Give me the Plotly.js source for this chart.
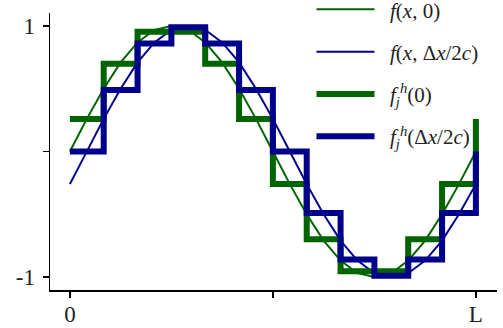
<!DOCTYPE html>
<html>
<head>
<meta charset="utf-8">
<script src="https://cdn.plot.ly/plotly-3.0.1.min.js"></script>
<style>html,body{margin:0;padding:0;background:#fff;} #chart{width:503px;height:328px;}</style>
</head>
<body>
<div id="chart"></div>
<script>
// x positions in units of L
var xCurve = [0, 0.0417, 0.0833, 0.125, 0.1667, 0.2083, 0.25, 0.2917, 0.3333, 0.375, 0.4167, 0.4583, 0.5,
              0.5417, 0.5833, 0.625, 0.6667, 0.7083, 0.75, 0.7917, 0.8333, 0.875, 0.9167, 0.9583, 1];
var fExact0 = [0, 0.26, 0.5, 0.71, 0.87, 0.97, 1, 0.97, 0.87, 0.71, 0.5, 0.26, 0,
               -0.26, -0.5, -0.71, -0.87, -0.97, -1, -0.97, -0.87, -0.71, -0.5, -0.26, 0];
var fExactHalf = [-0.26, 0, 0.26, 0.5, 0.71, 0.87, 0.97, 1, 0.97, 0.87, 0.71, 0.5, 0.26,
                  0, -0.26, -0.5, -0.71, -0.87, -0.97, -1, -0.97, -0.87, -0.71, -0.5, -0.26];
var xCells = [0, 0.0833, 0.1667, 0.25, 0.3333, 0.4167, 0.5, 0.5833, 0.6667, 0.75, 0.8333, 0.9167, 1];
var fCells0 = [0.26, 0.70, 0.955, 0.955, 0.70, 0.26, -0.26, -0.70, -0.955, -0.955, -0.70, -0.26, 0.26];
var fCellsHalf = [0, 0.49, 0.86, 0.99, 0.86, 0.49, 0, -0.49, -0.86, -0.99, -0.86, -0.49, 0];
var seriesNames = ['<i>f</i>(<i>x</i>, 0)', '<i>f</i>(<i>x</i>, Δ<i>x</i>/2<i>c</i>)',
                   '<i>f</i><sub><i>j</i></sub><sup><i>h</i></sup>(0)',
                   '<i>f</i><sub><i>j</i></sub><sup><i>h</i></sup>(Δ<i>x</i>/2<i>c</i>)'];
var xTickVals = [0, 0.5, 1];
var xTickText = ['0', '', 'L'];
var yTickVals = [-1, 0, 1];
var yTickText = ['-1', '', '1'];

var green = '#006400', blue = '#00008b';
var pad = '\u00a0\u00a0';
var traces = [
  {x: xCurve, y: fExact0, mode: 'lines', name: pad + seriesNames[0], line: {color: green, width: 2}, legendgroup: 'a'},
  {x: xCurve, y: fExactHalf, mode: 'lines', name: pad + seriesNames[1], line: {color: blue, width: 2}, legendgroup: 'b'},
  {x: xCells, y: fCells0, mode: 'lines', name: pad + seriesNames[2], line: {color: green, width: 6, shape: 'hv'}, legendgroup: 'c'},
  {x: xCells, y: fCellsHalf, mode: 'lines', name: pad + seriesNames[3], line: {color: blue, width: 6, shape: 'hv'}, legendgroup: 'd'}
];
var fam = 'Liberation Serif';
var layout = {
  width: 503, height: 328,
  margin: {l: 50, r: 6, t: 13, b: 38, autoexpand: false},
  paper_bgcolor: '#fff', plot_bgcolor: '#fff',
  font: {family: fam, size: 22, color: '#222'},
  showlegend: true,
  legend: {x: 0.585, y: 1.086, xanchor: 'left', yanchor: 'top', bgcolor: 'rgba(0,0,0,0)',
           traceorder: 'grouped', tracegroupgap: 12, itemwidth: 58, font: {family: fam, size: 21, color: '#222'}},
  xaxis: {range: [-0.049, 1.052], showgrid: false, zeroline: false, showline: true, linecolor: '#000', linewidth: 1.5,
          ticks: 'outside', ticklen: 6, tickwidth: 1.5, tickcolor: '#000', tickvals: xTickVals, ticktext: xTickText,
          ticklabelstandoff: -3, tickfont: {family: fam, size: 23, color: '#222'}, fixedrange: true},
  yaxis: {range: [-1.104, 1.104], showgrid: false, zeroline: false, showline: true, linecolor: '#000', linewidth: 1.5,
          ticks: 'outside', ticklen: 6, tickwidth: 1.5, tickcolor: '#000', tickvals: yTickVals, ticktext: yTickText,
          ticklabelstandoff: 3, tickfont: {family: fam, size: 23, color: '#222'}, fixedrange: true}
};
Plotly.newPlot('chart', traces, layout, {displayModeBar: false, staticPlot: true});
</script>
</body>
</html>
